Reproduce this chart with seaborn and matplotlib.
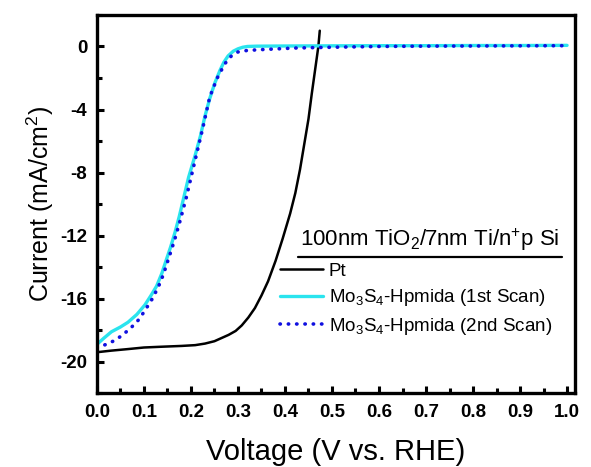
import numpy as np
import pandas as pd
import matplotlib
matplotlib.use("Agg")
import matplotlib.pyplot as plt
from matplotlib.lines import Line2D
from matplotlib.ticker import MultipleLocator, FormatStrFormatter
import seaborn as sns

# --- DATA ---
pt_v = [0.0, 0.03, 0.066, 0.10, 0.138, 0.18, 0.209, 0.23, 0.25, 0.265, 0.28,
        0.295, 0.308, 0.322, 0.336, 0.35, 0.364, 0.38, 0.395, 0.411, 0.422,
        0.432, 0.441, 0.45, 0.457, 0.464, 0.471, 0.474]
pt_i = [-19.4, -19.3, -19.2, -19.1, -19.05, -19.0, -18.95, -18.85, -18.7, -18.5,
        -18.3, -18.05, -17.7, -17.2, -16.6, -15.8, -14.9, -13.6, -12.2, -10.6,
        -9.3, -7.8, -6.2, -4.6, -3.0, -1.5, 0.0, 1.0]

scan1_v = [0.0, 0.015, 0.031, 0.05, 0.066, 0.085, 0.102, 0.115, 0.127, 0.138,
           0.148, 0.157, 0.166, 0.175, 0.183, 0.195, 0.209, 0.22, 0.230, 0.24,
           0.251, 0.262, 0.27, 0.279, 0.29, 0.30, 0.31, 0.32, 0.34, 0.4, 0.5,
           0.6, 0.7, 0.8, 0.9, 1.0]
scan1_i = [-18.9, -18.5, -18.1, -17.8, -17.5, -17.0, -16.4, -15.8, -15.2, -14.4,
           -13.5, -12.7, -11.8, -10.8, -9.8, -8.3, -6.9, -5.7, -4.4, -3.3,
           -2.3, -1.5, -1.0, -0.6, -0.3, -0.15, -0.05, 0.0, 0.02, 0.03, 0.04,
           0.05, 0.05, 0.06, 0.06, 0.07]

scan2_v = [0.0, 0.02, 0.038, 0.055, 0.074, 0.09, 0.102, 0.116, 0.130, 0.141,
           0.152, 0.165, 0.177, 0.19, 0.209, 0.225, 0.240, 0.256, 0.272, 0.286,
           0.30, 0.32, 0.35, 0.42, 0.5, 0.6, 0.7, 0.8, 0.9, 1.0]
scan2_i = [-19.1, -18.9, -18.65, -18.3, -17.8, -17.3, -16.75, -16.1, -15.3, -14.5,
           -13.5, -12.3, -11.05, -9.6, -7.2, -5.2, -3.2, -2.0, -1.1, -0.6,
           -0.35, -0.25, -0.2, -0.1, -0.05, 0.0, 0.02, 0.03, 0.04, 0.05]

labels = ["Pt", "Mo$_3$S$_4$-Hpmida (1st Scan)", "Mo$_3$S$_4$-Hpmida (2nd Scan)"]
legend_title = "100nm TiO$_2$/7nm Ti/n$^{+}$p Si"

PT_COLOR = "black"
SCAN1_COLOR = "#2ae4ee"
SCAN2_COLOR = "#1010e0"
DOTS = (0, (0.1, 2.2))

# --- STYLE ---
sns.set_style("ticks")
plt.rcParams['font.family'] = ['Liberation Sans', 'DejaVu Sans']
plt.rcParams['mathtext.fontset'] = 'custom'
plt.rcParams['mathtext.rm'] = 'Liberation Sans'
plt.rcParams['mathtext.it'] = 'Liberation Sans:italic'
plt.rcParams['mathtext.bf'] = 'Liberation Sans:bold'
plt.rcParams['axes.unicode_minus'] = False
for key in ['text.color', 'axes.labelcolor', 'xtick.color', 'ytick.color', 'axes.edgecolor']:
    plt.rcParams[key] = 'black'

fig = plt.figure(figsize=(5.91, 4.67), dpi=100)
ax = fig.add_axes([0.164, 0.158, 0.809, 0.810])

pt_df = pd.DataFrame({"v": pt_v, "i": pt_i})
s1_df = pd.DataFrame({"v": scan1_v, "i": scan1_i})
s2_df = pd.DataFrame({"v": scan2_v, "i": scan2_i})

sns.lineplot(data=pt_df, x="v", y="i", ax=ax, color=PT_COLOR, lw=1.8,
             sort=False, estimator=None)
sns.lineplot(data=s1_df, x="v", y="i", ax=ax, color=SCAN1_COLOR, lw=2.4,
             sort=False, estimator=None)
sns.lineplot(data=s2_df, x="v", y="i", ax=ax, color=SCAN2_COLOR, lw=2.6,
             sort=False, estimator=None, linestyle=DOTS, dash_capstyle="round")

ax.set_xlim(0, 1.017)
ax.set_ylim(-22, 2)
ax.xaxis.set_major_locator(MultipleLocator(0.1))
ax.xaxis.set_minor_locator(MultipleLocator(0.05))
ax.yaxis.set_major_locator(MultipleLocator(4))
ax.yaxis.set_minor_locator(MultipleLocator(2))
ax.xaxis.set_major_formatter(FormatStrFormatter("%.1f"))
ax.tick_params(which="both", direction="in", top=False, right=False,
               width=2.2, labelsize=13.5)
ax.tick_params(which="major", length=5)
ax.tick_params(which="minor", length=3.5)
ax.tick_params(axis="x", pad=8)
ax.tick_params(axis="y", pad=7)
for lab in ax.get_xticklabels() + ax.get_yticklabels():
    lab.set_fontweight("bold")
for sp in ax.spines.values():
    sp.set_linewidth(2.4)

ax.set_xlabel("Voltage (V vs. RHE)", fontsize=21, labelpad=12)
ax.set_ylabel("Current (mA/cm$^2$)", fontsize=18, labelpad=3)

# legend with underlined title
handles = [Line2D([], [], color=PT_COLOR, lw=1.8),
           Line2D([], [], color=SCAN1_COLOR, lw=2.4),
           Line2D([], [], color=SCAN2_COLOR, lw=2.6, linestyle=DOTS,
                  dash_capstyle="round")]
ax.legend(handles, labels, loc="upper left", bbox_to_anchor=(0.383, 0.345),
          frameon=False, fontsize=13.5, handlelength=2.3, handletextpad=0.3,
          borderpad=0, borderaxespad=0, labelspacing=0.4)
ax.text(0.697, 0.405, legend_title, transform=ax.transAxes, fontsize=16,
        ha="center", va="center")
ax.add_line(Line2D([0.42, 0.973], [0.36, 0.36], transform=ax.transAxes,
                   color="black", lw=1.6))

fig.savefig("out.png", dpi=100)
